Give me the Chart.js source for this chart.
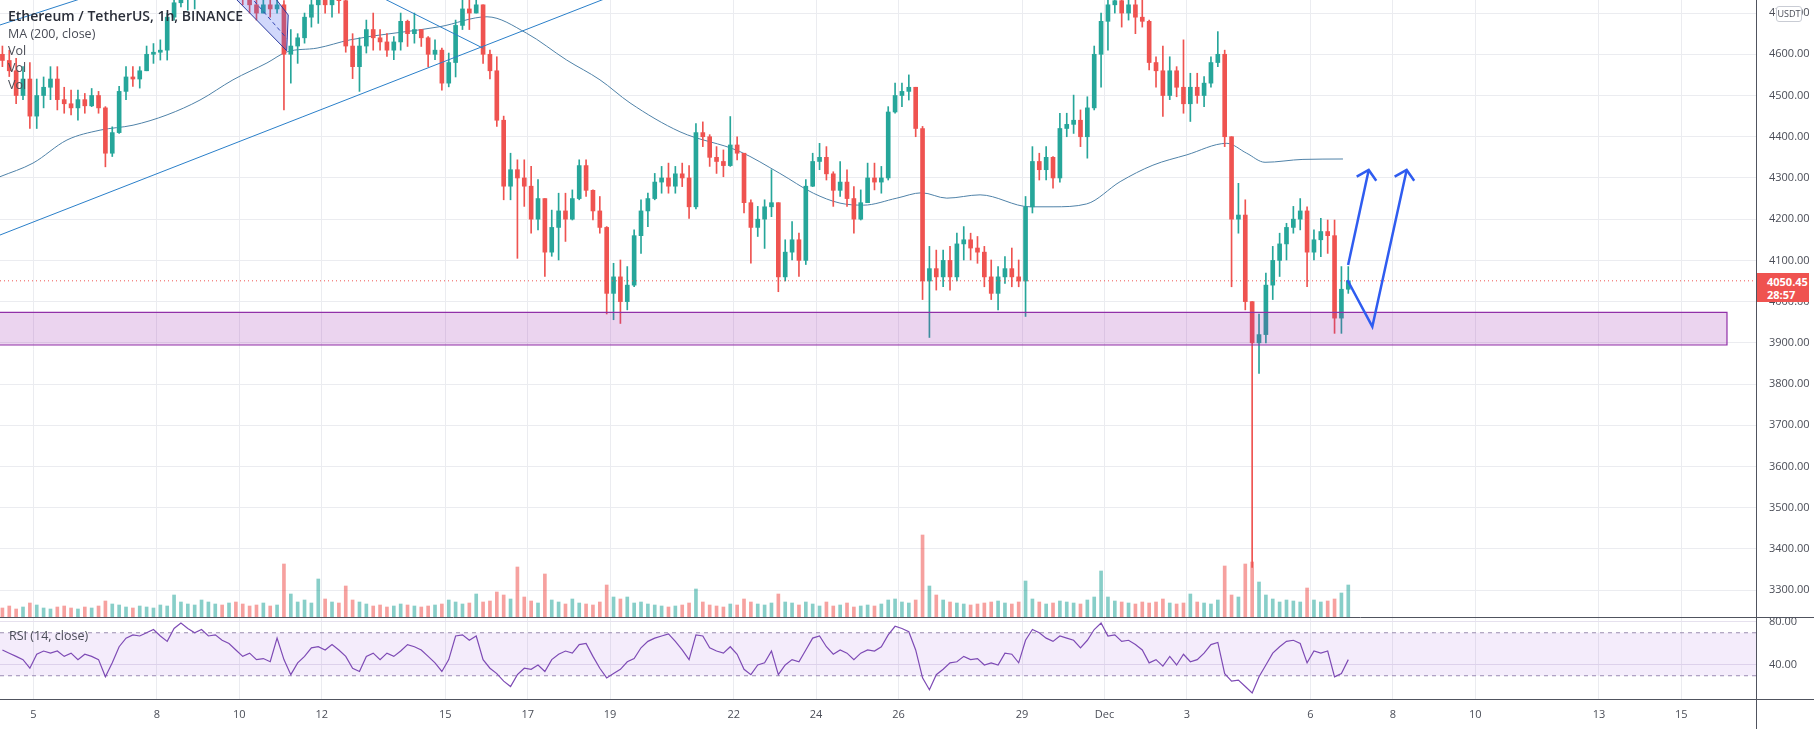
<!DOCTYPE html>
<html>
<head>
<meta charset="utf-8">
<script src="https://cdn.jsdelivr.net/npm/chart.js@4.4.1/dist/chart.umd.min.js"></script>
<style>
html,body{margin:0;padding:0;background:#fff;overflow:hidden}
#wrap{position:relative;width:1814px;height:729px}
#c{display:block}
.lg{position:absolute;left:8px;font-family:"Open Sans",sans-serif;font-size:12.5px;line-height:17px;color:#4a4d57;white-space:nowrap;pointer-events:none}
#pbox{position:absolute;left:1757px;width:52px;height:29px;background:#ef5350;color:#fff;font-family:"Open Sans",sans-serif;font-size:11px;font-weight:700;line-height:13px;box-sizing:border-box;padding:2px 0 0 10px}
#ubox{position:absolute;left:1776px;top:6px;width:26px;height:16px;background:#fff;border:1px solid #c9ccd4;border-radius:3px;box-sizing:border-box;font-family:"Open Sans",sans-serif;font-size:9px;line-height:14px;text-align:center;color:#4a4d57}
</style>
</head>
<body>
<div id="wrap">
<canvas id="c" width="1814" height="729"></canvas>
<div class="lg" style="top:7px;color:#2a2e39;font-weight:600;font-size:14px">Ethereum / TetherUS, 1h, BINANCE</div>
<div class="lg" style="top:25px">MA (200, close)</div>
<div class="lg" style="top:42px">Vol</div>
<div class="lg" style="top:59px">Vol</div>
<div class="lg" style="top:76px">Vol</div>
<div class="lg" style="top:627px;left:9px">RSI (14, close)</div>
<div id="ubox">USDT</div>
<div id="pbox">4050.45<br>28:57</div>
</div>
<script>
// ---- time base: hours from 5 Nov 00:00; 4-hour candles ----
const candleStartHour = -20;
const candleStepHours = 4;

const openP = [
4600,4585,4560,4500,4540,4450,4500,4520,4540,4490,
4480,4470,4490,4475,4500,4470,4360,4410,4510,4545,
4540,4560,4600,4605,4610,4690,4725,4735,4740,4760,
4780,4790,4810,4800,4830,4780,4740,4720,4700,4720,
4710,4720,4600,4620,4640,4690,4720,4740,4720,4740,
4730,4620,4570,4620,4660,4640,4630,4610,4630,4680,
4650,4660,4640,4600,4610,4530,4580,4670,4710,4700,
4720,4600,4560,4440,4280,4320,4300,4280,4200,4250,
4120,4180,4220,4200,4250,4330,4270,4220,4180,4020,
4060,4000,4040,4160,4220,4250,4290,4300,4280,4310,
4300,4230,4410,4400,4350,4340,4330,4380,4360,4240,
4180,4200,4230,4240,4060,4120,4150,4100,4280,4340,
4350,4310,4270,4290,4250,4200,4240,4300,4290,4300,
4460,4500,4510,4520,4420,4050,4080,4060,4100,4060,
4140,4150,4130,4120,4060,4020,4060,4080,4060,4050,
4230,4340,4320,4350,4300,4420,4430,4440,4400,4470,
4600,4680,4720,4730,4700,4720,4690,4680,4580,4560,
4500,4560,4520,4480,4520,4500,4530,4580,4600,4400,
4200,4210,4000,3900,3920,4040,4100,4140,4180,4200,
4220,4120,4150,4170,4160,3960,4030];
const highP = [
4620,4610,4590,4570,4580,4540,4545,4570,4570,4520,
4513,4513,4505,4517,4510,4473,4424,4522,4570,4570,
4570,4620,4626,4635,4700,4740,4750,4760,4770,4790,
4800,4820,4830,4860,4840,4800,4760,4740,4745,4740,
4745,4730,4660,4650,4700,4740,4760,4760,4760,4760,
4740,4650,4640,4683,4700,4660,4650,4643,4700,4683,
4700,4660,4643,4635,4615,4603,4683,4731,4740,4745,
4720,4610,4594,4450,4360,4344,4344,4328,4296,4250,
4222,4263,4263,4271,4344,4344,4271,4255,4182,4093,
4101,4085,4174,4247,4263,4311,4328,4336,4328,4336,
4330,4432,4436,4405,4376,4368,4449,4400,4360,4247,
4231,4247,4320,4240,4150,4194,4166,4296,4360,4384,
4376,4315,4340,4320,4279,4271,4336,4336,4328,4473,
4530,4530,4550,4520,4425,4134,4125,4125,4134,4166,
4182,4166,4158,4134,4101,4085,4109,4130,4101,4255,
4376,4360,4376,4352,4457,4457,4501,4465,4497,4620,
4700,4740,4760,4760,4750,4731,4731,4683,4594,4620,
4594,4570,4635,4554,4554,4546,4594,4655,4610,4400,
4287,4247,4000,3970,4069,4134,4166,4190,4231,4250,
4230,4174,4202,4198,4198,4085,4085];
const lowP = [
4570,4546,4480,4490,4420,4420,4470,4490,4465,4457,
4453,4440,4457,4473,4457,4327,4352,4408,4490,4522,
4518,4562,4578,4586,4586,4683,4715,4707,4710,4740,
4750,4760,4770,4780,4760,4720,4700,4683,4700,4690,
4700,4465,4530,4578,4627,4666,4675,4700,4690,4700,
4605,4541,4510,4603,4610,4610,4595,4587,4610,4619,
4627,4619,4570,4587,4513,4521,4545,4660,4660,4700,
4578,4540,4425,4247,4247,4105,4231,4166,4174,4061,
4110,4101,4146,4198,4247,4255,4198,4166,3970,3956,
3947,3980,4036,4117,4182,4247,4263,4263,4263,4279,
4202,4225,4376,4328,4311,4303,4328,4344,4215,4093,
4158,4129,4206,4024,4050,4101,4061,4090,4279,4320,
4295,4231,4255,4231,4166,4198,4240,4271,4263,4295,
4457,4473,4489,4400,4005,3913,4028,4036,4028,4050,
4101,4101,4093,4036,4005,3980,4044,4036,4036,3964,
4215,4295,4295,4275,4290,4400,4408,4376,4348,4465,
4520,4610,4700,4666,4683,4650,4666,4562,4520,4449,
4490,4497,4457,4437,4481,4473,4520,4570,4376,4036,
4166,3980,3355,3826,3900,4005,4061,4101,4166,4174,
4036,4101,4109,4117,3923,3923,4020];
const closeP = [
4585,4560,4500,4540,4450,4500,4520,4540,4490,4480,
4470,4490,4475,4500,4470,4360,4410,4510,4545,4540,
4560,4600,4605,4610,4690,4725,4735,4740,4760,4780,
4790,4810,4800,4830,4780,4740,4720,4700,4720,4710,
4720,4600,4620,4640,4690,4720,4740,4720,4740,4730,
4620,4570,4620,4660,4640,4630,4610,4630,4680,4650,
4660,4640,4600,4610,4530,4580,4670,4710,4700,4720,
4600,4560,4440,4280,4320,4300,4280,4200,4250,4120,
4180,4220,4200,4250,4330,4270,4220,4180,4020,4060,
4000,4040,4160,4220,4250,4290,4300,4280,4310,4300,
4230,4410,4400,4350,4340,4330,4380,4360,4240,4180,
4200,4230,4240,4060,4120,4150,4100,4280,4340,4350,
4310,4270,4290,4250,4200,4240,4300,4290,4300,4460,
4500,4510,4520,4420,4050,4080,4060,4100,4060,4140,
4150,4130,4120,4060,4020,4060,4080,4060,4050,4230,
4340,4320,4350,4300,4420,4430,4440,4400,4470,4600,
4680,4720,4730,4700,4720,4690,4680,4580,4560,4500,
4560,4520,4480,4520,4500,4530,4580,4600,4400,4200,
4210,4000,3900,3920,4040,4100,4140,4180,4200,4220,
4120,4150,4170,4160,3960,4030,4050.45];
// volume, thousands ETH
const volumeK = [
18,22,16,20,28,24,18,16,20,22,
18,16,20,18,22,32,26,24,20,18,
22,20,18,24,22,44,30,26,24,34,
30,26,24,28,30,26,22,24,28,22,
24,106,46,30,34,28,76,36,30,28,
62,34,30,26,22,24,20,22,26,24,
22,20,22,24,26,34,30,26,28,46,
30,32,50,44,36,100,40,32,28,86,
34,30,26,36,28,26,24,30,64,40,
36,40,28,30,26,24,22,20,22,24,
28,56,30,24,22,20,26,24,36,30,
26,24,28,46,30,28,24,30,26,22,
30,22,24,28,20,22,24,22,26,34,
36,30,28,34,164,62,44,34,30,28,
26,24,26,28,30,32,28,26,30,72,
36,30,26,28,32,30,28,26,34,40,
92,40,32,30,28,26,30,28,30,36,
28,26,28,46,30,28,26,34,102,44,
40,106,110,70,44,36,30,34,32,30,
58,34,30,32,36,48,64];
const rsi14 = [
54,51,48,45,37,50,53,51,53,48,
51,45,50,48,45,29,42,57,65,68,
67,70,73,67,62,74,79,74,70,73,
67,68,63,60,54,48,51,45,46,43,
65,45,31,42,48,56,57,54,59,54,
48,37,34,48,51,45,51,48,53,59,
57,54,48,42,34,45,67,68,63,67,
45,37,32,25,20,31,37,36,40,34,
45,50,53,51,59,60,48,37,28,32,
36,43,46,56,62,65,67,69,62,54,
45,68,67,56,53,51,57,50,36,31,
40,42,53,31,40,45,43,54,65,67,
57,50,54,51,45,51,54,53,57,68,
76,74,71,54,28,17,31,36,42,43,
48,45,46,40,42,40,51,50,42,63,
73,70,65,62,67,65,63,56,63,73,
79,67,68,62,63,59,54,42,45,39,
48,40,50,43,45,51,59,61,32,25,
26,20,14,29,40,51,57,62,63,60,
42,53,51,53,29,32,45];
// MA(200) read at points (hour, price)
const maHours = [-19.4,-0.2,19.6,38.9,58.1,77.9,97.1,116.3,136.1,147.8,165.3,184.5,236.9,264.3,287.4,310.7,330.1,347.6,376.7,411.6,434.9,454.4,469.9,483.5,503,517.5,532.1,551.5,580.6,594,613.6,633.1,652.2,671.9,695.2,706.8,717.5,739.6,762.9];
const ma200 = [4303,4336,4392,4416,4428,4453,4489,4538,4579,4606,4615,4635,4667,4691,4651,4586,4538,4482,4412,4364,4311,4263,4239,4234,4251,4264,4251,4259,4230,4230,4237,4291,4331,4356,4384,4360,4338,4345,4346];

// axes
const xMin = -19.4, xMax = 1003.5;
const xTickHours = [0,72,120,168,240,288,336,408,456,504,576,624,672,744,792,840,912,960];
const xTickLabels = ['5','8','10','12','15','17','19','22','24','26','29','Dec','3','6','8','10','13','15'];
const priceTicks = [3300,3400,3500,3600,3700,3800,3900,4000,4100,4200,4300,4400,4500,4600,4700];
const priceMin = 3234.9, priceMax = 4731.7;
const rsiTicks = [40,80];
const rsiMin = 8.37, rsiMax = 84.65;
const rsiUpper = 70, rsiLower = 30;
const lastPrice = 4050.45;

// drawings (hour, price)
const trendUpHours = [-19.4, 388.4], trendUpPrices = [4161.6, 4824.9];
const trendTopHours = [-19.4, 68.0], trendTopPrices = [4671.1, 4789.3];
const trendDownHours = [190.3, 262.1], trendDownPrices = [4764.1, 4614.6];
const channelHours = [107.2, 132.8, 148.5, 147.6, 107.2];
const channelPrices = [4780.3, 4780.3, 4695.3, 4608.7, 4780.3];
const channelMidHours = [118.0, 147.6], channelMidPrices = [4780.3, 4638.8];
const zoneHours = [-30, 986.6, 986.6, -30, -30];
const zonePrices = [3974.1, 3974.1, 3894.8, 3894.8, 3974.1];
const arrowAHours = [765.9, 777.9], arrowAPrices = [4088.8, 4319.3];
const arrowAHeadHours = [770.9, 777.9, 782.3], arrowAHeadPrices = [4303.0, 4319.3, 4293.3];
const arrowBHours = [765.5, 780.0, 800.0], arrowBPrices = [4052.4, 3939.2, 4319.3];
const arrowBHeadHours = [793.0, 800.0, 804.4], arrowBHeadPrices = [4303.0, 4319.3, 4293.3];

// ---------- build ----------
const UP = '#26a69a', DOWN = '#ef5350';
const hourOf = i => candleStartHour + candleStepHours * i + candleStepHours / 2;
const isUp = openP.map((o, i) => closeP[i] >= o);
const candleCol = isUp.map(u => u ? UP : DOWN);
const volCol = isUp.map(u => u ? 'rgba(38,166,154,0.55)' : 'rgba(239,83,80,0.55)');
const pts = (xs, ys) => xs.map((x, i) => ({x, y: ys[i]}));

const wickData = openP.map((o, i) => ({x: hourOf(i), y: [Math.min(lowP[i], o, closeP[i]), Math.max(highP[i], o, closeP[i])]}));
const bodyData = openP.map((o, i) => ({x: hourOf(i), y: [o, closeP[i]]}));
const volData = volumeK.map((v, i) => ({x: hourOf(i), y: v}));
const rsiData = rsi14.map((v, i) => ({x: hourOf(i), y: v}));

const lineBase = {type: 'line', pointRadius: 0, borderWidth: 1, fill: false, tension: 0};
const drawBlue = '#2a7fc9';
const arrowBlue = '#2f5cf0';

Chart.defaults.font.family = "'Open Sans', sans-serif";

const noPad = s => { s.paddingTop = 0; s.paddingBottom = 0; s.paddingLeft = 0; s.paddingRight = 0; };

const frame = {
  id: 'frame',
  afterDraw(chart) {
    const {ctx} = chart; const x = chart.scales.x, y = chart.scales.y;
    ctx.save();
    ctx.strokeStyle = '#50535e'; ctx.lineWidth = 1;
    ctx.beginPath();
    const sy = Math.round(y.bottom) + 0.5;
    ctx.moveTo(0, sy); ctx.lineTo(chart.width, sy);
    const by = Math.round(x.top) + 0.5;
    ctx.moveTo(0, by); ctx.lineTo(chart.width, by);
    const rx = Math.round(y.left) + 0.5;
    ctx.moveTo(rx, 0); ctx.lineTo(rx, chart.height);
    ctx.stroke();
    ctx.restore();
  }
};

const chart = new Chart(document.getElementById('c'), {
  type: 'line',
  data: {
    datasets: [
      {...lineBase, label: 'arrowAHead', data: pts(arrowAHeadHours, arrowAHeadPrices), borderColor: arrowBlue, borderWidth: 2.5, order: 1, yAxisID: 'y'},
      {...lineBase, label: 'arrowA', data: pts(arrowAHours, arrowAPrices), borderColor: arrowBlue, borderWidth: 2.5, order: 1, yAxisID: 'y'},
      {...lineBase, label: 'arrowBHead', data: pts(arrowBHeadHours, arrowBHeadPrices), borderColor: arrowBlue, borderWidth: 2.5, order: 1, yAxisID: 'y'},
      {...lineBase, label: 'arrowB', data: pts(arrowBHours, arrowBPrices), borderColor: arrowBlue, borderWidth: 2.5, order: 1, yAxisID: 'y'},
      {...lineBase, label: 'last', data: pts([xMin, xMax], [lastPrice, lastPrice]), borderColor: DOWN, borderDash: [1, 3], order: 3, yAxisID: 'y'},
      {...lineBase, label: 'trendUp', data: pts(trendUpHours, trendUpPrices), borderColor: drawBlue, order: 4, yAxisID: 'y'},
      {...lineBase, label: 'trendTop', data: pts(trendTopHours, trendTopPrices), borderColor: drawBlue, order: 4, yAxisID: 'y'},
      {...lineBase, label: 'trendDown', data: pts(trendDownHours, trendDownPrices), borderColor: drawBlue, order: 4, yAxisID: 'y'},
      {...lineBase, label: 'channel', data: pts(channelHours, channelPrices), borderColor: '#2b3a9e', backgroundColor: 'rgba(70,100,240,0.25)', fill: 'shape', order: 5, yAxisID: 'y'},
      {...lineBase, label: 'channelMid', data: pts(channelMidHours, channelMidPrices), borderColor: '#2b3a9e', borderDash: [4, 3], order: 5, yAxisID: 'y'},
      {...lineBase, label: 'zone', data: pts(zoneHours, zonePrices), borderColor: '#9130a8', borderWidth: 1.2, backgroundColor: 'rgba(156,39,176,0.2)', fill: 'shape', order: 6, yAxisID: 'y'},
      {...lineBase, label: 'RSI', data: rsiData, borderColor: '#7e4bb5', borderWidth: 1.2, order: 7, yAxisID: 'yR'},
      {type: 'bar', label: 'body', data: bodyData, backgroundColor: candleCol, barThickness: 4, minBarLength: 1, grouped: false, borderWidth: 0, order: 10, yAxisID: 'y'},
      {type: 'bar', label: 'wick', data: wickData, backgroundColor: candleCol, barThickness: 1, grouped: false, borderWidth: 0, order: 11, yAxisID: 'y'},
      {...lineBase, label: 'MA', data: pts(maHours, ma200), borderColor: '#4f82a8', borderWidth: 1, tension: 0.4, cubicInterpolationMode: 'monotone', order: 12, yAxisID: 'y'},
      {type: 'bar', label: 'vol', data: volData, backgroundColor: volCol, barThickness: 3, grouped: false, borderWidth: 0, order: 13, yAxisID: 'yV'},
      {...lineBase, label: 'rsiUp', data: pts([xMin, xMax], [rsiUpper, rsiUpper]), borderColor: '#9b8fb0', borderDash: [4, 4], backgroundColor: 'rgba(155,80,220,0.11)', fill: '+1', order: 14, yAxisID: 'yR'},
      {...lineBase, label: 'rsiLow', data: pts([xMin, xMax], [rsiLower, rsiLower]), borderColor: '#9b8fb0', borderDash: [4, 4], order: 15, yAxisID: 'yR'}
    ]
  },
  options: {
    responsive: false,
    devicePixelRatio: 1,
    animation: false,
    events: [],
    layout: {padding: 0, autoPadding: false},
    plugins: {legend: {display: false}, tooltip: {enabled: false}},
    scales: {
      x: {
        type: 'linear', min: xMin, max: xMax, offset: false,
        grid: {color: '#ebecf0', drawTicks: false, offset: false},
        border: {color: '#50535e'},
        afterBuildTicks: s => { s.ticks = xTickHours.map(v => ({value: v})); },
        afterFit: s => { s.height = 30; noPad(s); },
        ticks: {autoSkip: false, maxRotation: 0, padding: 9, color: '#4a4d57', font: {size: 11}, callback: (v, i) => xTickLabels[i]}
      },
      y: {
        type: 'linear', position: 'right', stack: 'pane', stackWeight: 617, min: priceMin, max: priceMax,
        grid: {color: '#ebecf0', drawTicks: false},
        border: {color: '#50535e'},
        afterBuildTicks: s => { s.ticks = priceTicks.map(v => ({value: v})); },
        afterFit: s => { s.width = 58; noPad(s); },
        ticks: {autoSkip: false, padding: 13, color: '#4a4d57', font: {size: 11}, callback: v => Number(v).toFixed(2)}
      },
      yR: {
        type: 'linear', position: 'right', stack: 'pane', stackWeight: 82, min: rsiMin, max: rsiMax,
        grid: {color: '#e6e1ee', drawTicks: false},
        border: {color: '#50535e'},
        afterBuildTicks: s => { s.ticks = rsiTicks.map(v => ({value: v})); },
        afterFit: s => { s.width = 58; noPad(s); },
        ticks: {autoSkip: false, padding: 13, color: '#4a4d57', font: {size: 11}, callback: v => Number(v).toFixed(2)}
      },
      yV: {type: 'linear', display: false, min: -164, max: 1234}
    }
  },
  plugins: [frame]
});

const py = chart.scales.y.getPixelForValue(lastPrice);
document.getElementById('pbox').style.top = (py - 8) + 'px';
</script>
</body>
</html>
